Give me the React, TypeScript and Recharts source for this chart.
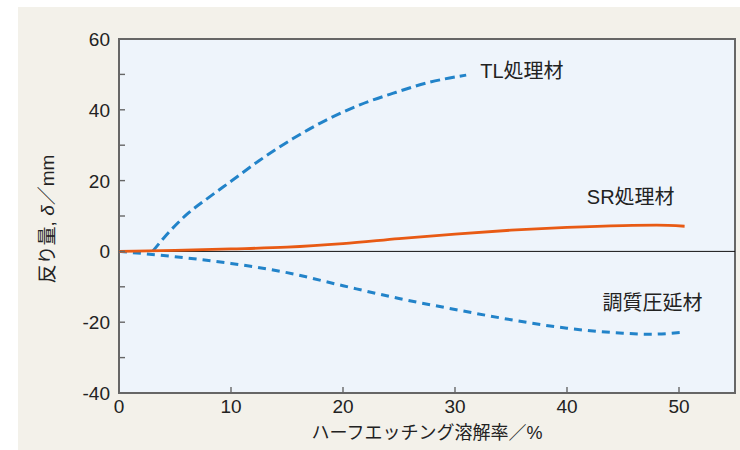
import React from 'react';
import { LineChart, Line, XAxis, YAxis, CartesianGrid, ReferenceLine, ReferenceArea } from 'recharts';

// 反り量 vs ハーフエッチング溶解率 for three material conditions
const tlX = [3, 4, 6, 8, 10, 12.5, 15.5, 18.5, 21.5, 24.5, 27.5, 31];
const tlY = [0, 3.8, 10.3, 15.2, 19.8, 25.6, 31.8, 37.1, 41.4, 44.7, 47.6, 49.8];

const srX = [0, 5, 10, 15, 20, 25, 30, 35, 40, 45, 48, 50.5];
const srY = [0, 0.3, 0.7, 1.2, 2.2, 3.6, 4.9, 6, 6.8, 7.3, 7.4, 7.1];

const trX = [0, 5, 10, 15, 20, 25, 30, 35, 40, 45, 47.5, 50.5];
const trY = [0, -1.5, -3.4, -6, -9.7, -13.3, -16.4, -19.3, -21.7, -23.1, -23.4, -22.8];

const xTicks = [0, 10, 20, 30, 40, 50];
const yTicks = [-40, -30, -20, -10, 0, 10, 20, 30, 40, 50, 60];

const toPoints = (xs: number[], ys: number[]) => xs.map((x, i) => ({ x, y: ys[i] }));

const tlData = toPoints(tlX, tlY);
const srData = toPoints(srX, srY);
const trData = toPoints(trX, trY);

const FONT = '"Liberation Sans", "Noto Sans CJK JP", sans-serif';
const TEXT = '#222';
const FRAME = '#666';

const XTick = ({ x, y, payload }: any) => (
  <g>
    <line x1={x} x2={x} y1={y} y2={y - 6} stroke={FRAME} strokeWidth={1.4} />
    <text x={x} y={y + 20} textAnchor="middle" fontSize={19} fontFamily={FONT} fill={TEXT}>
      {payload.value}
    </text>
  </g>
);

const YTick = ({ x, y, payload }: any) => (
  <g>
    <line x1={x} x2={x + 6} y1={y} y2={y} stroke={FRAME} strokeWidth={1.4} />
    {payload.value % 20 === 0 && (
      <text x={x - 9} y={y + 7} textAnchor="end" fontSize={19} fontFamily={FONT} fill={TEXT}>
        {payload.value}
      </text>
    )}
  </g>
);

// series name written next to the last point of each line
const endLabel = (name: string, count: number, dx: number, dy: number, anchor: string) =>
  (props: any) => {
    if (props.index !== count - 1) return null;
    return (
      <text
        key="end"
        x={props.x + dx}
        y={props.y + dy}
        textAnchor={anchor}
        dominantBaseline="central"
        fontSize={20}
        fontFamily={FONT}
        fill={TEXT}
      >
        {name}
      </text>
    );
  };

const XLabel = ({ viewBox }: any) => (
  <text
    x={viewBox.x + viewBox.width / 2}
    y={viewBox.y + viewBox.height + 10}
    textAnchor="middle"
    dominantBaseline="central"
    fontSize={18}
    fontFamily={FONT}
    fill={TEXT}
  >
    ハーフエッチング溶解率／%
  </text>
);

const YLabel = ({ viewBox }: any) => {
  const cx = viewBox.x - 12;
  const cy = viewBox.y + viewBox.height / 2 + 3;
  return (
    <text
      x={cx}
      y={cy}
      transform={`rotate(-90, ${cx}, ${cy})`}
      textAnchor="middle"
      dominantBaseline="central"
      fontSize={19}
      fontFamily={FONT}
      fill={TEXT}
    >
      反り量, <tspan fontStyle="italic">δ</tspan>／mm
    </text>
  );
};

export default function App() {
  return (
    <div style={{ position: 'absolute', left: 0, top: 0, width: 740, height: 450, background: '#fff' }}>
      <div style={{ position: 'absolute', left: 18, top: 7, right: 0, bottom: 0, background: '#f3f1ea' }} />
      <div style={{ position: 'absolute', left: 0, top: 0 }}>
        <LineChart width={740} height={450} margin={{ top: 39, right: 5, bottom: 27, left: 59 }}>
          <CartesianGrid fill="#eef4fb" horizontal={false} vertical={false} stroke="none" />
          <XAxis
            dataKey="x"
            type="number"
            domain={[0, 55]}
            ticks={xTicks}
            interval={0}
            allowDataOverflow
            height={30}
            axisLine={false}
            tickLine={false}
            tickSize={0}
            tickMargin={0}
            tick={XTick}
            label={{ content: XLabel }}
          />
          <YAxis
            type="number"
            domain={[-40, 60]}
            ticks={yTicks}
            interval={0}
            allowDataOverflow
            width={60}
            axisLine={false}
            tickLine={false}
            tickSize={0}
            tickMargin={0}
            tick={YTick}
            label={{ content: YLabel }}
          />
          <ReferenceLine y={0} stroke="#111" strokeWidth={1} />
          <Line
            data={tlData}
            dataKey="y"
            type="monotone"
            stroke="#2283c9"
            strokeWidth={3}
            strokeDasharray="10 5"
            dot={false}
            isAnimationActive={false}
            label={endLabel('TL処理材', tlData.length, 14, -4, 'start')}
          />
          <Line
            data={trData}
            dataKey="y"
            type="monotone"
            stroke="#2283c9"
            strokeWidth={3}
            strokeDasharray="8 6"
            dot={false}
            isAnimationActive={false}
            label={endLabel('調質圧延材', trData.length, 18, -29, 'end')}
          />
          <Line
            data={srData}
            dataKey="y"
            type="monotone"
            stroke="#e85a14"
            strokeWidth={2.8}
            dot={false}
            isAnimationActive={false}
            label={endLabel('SR処理材', srData.length, -10, -29, 'end')}
          />
          <ReferenceArea x1={0} x2={55} y1={-40} y2={60} fill="none" stroke={FRAME} strokeWidth={2} />
        </LineChart>
      </div>
    </div>
  );
}
